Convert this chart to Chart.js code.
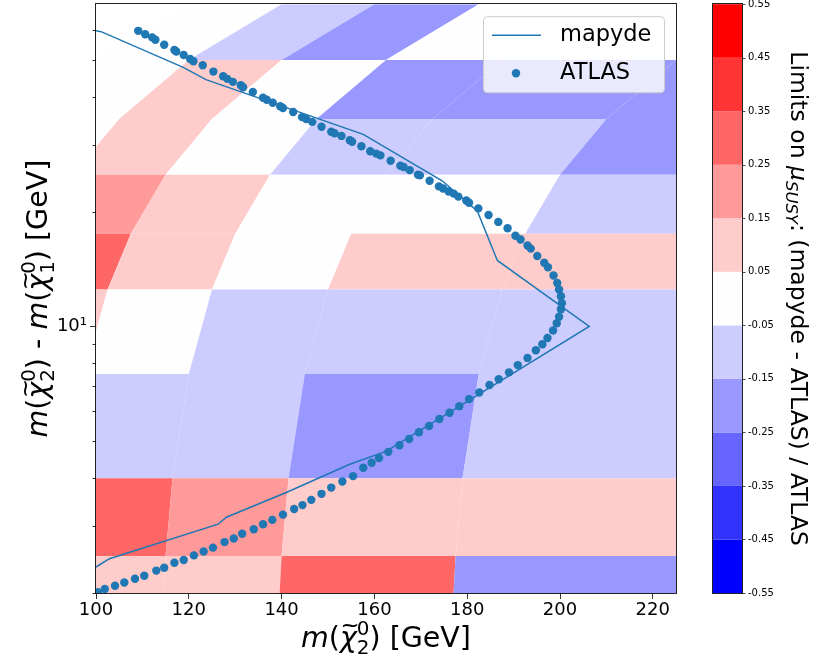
<!DOCTYPE html>
<html>
<head>
<meta charset="utf-8">
<script src="https://cdn.jsdelivr.net/npm/chart.js@4.4.1/dist/chart.umd.min.js"></script>
<style>
  html, body { margin: 0; padding: 0; background: #fff; }
  canvas { display: block; }
</style>
</head>
<body>
<canvas id="chart" width="814" height="665" style="width:814px;height:665px"></canvas>
<script>
// ---------------- DATA ----------------
// grid of the comparison (LSP mass x mass splitting)
const m1Centers = [60, 80, 100, 125, 150, 200];
const dmCenters = [60, 40, 30, 20, 15, 10, 5, 3, 2];
// (mapyde - ATLAS) / ATLAS, rows follow dmCenters, columns m1Centers
const relDiff = [
  [0.0, -0.1, -0.2, 0.0, 0.0, 0.0],
  [0.0, 0.1, 0.0, -0.2, -0.2, -0.2],
  [0.0, 0.1, 0.0, -0.1, -0.1, -0.2],
  [null, 0.2, 0.1, 0.0, 0.0, -0.1],
  [null, 0.3, 0.1, 0.0, 0.1, 0.1],
  [null, 0.1, 0.0, -0.1, -0.1, -0.1],
  [null, null, -0.1, -0.1, -0.2, -0.1],
  [null, null, 0.3, 0.2, 0.1, 0.1],
  [null, null, 0.1, 0.1, 0.3, -0.2],
];

// mapyde exclusion contour
const mapydeX = [100.0, 101.1, 118.8, 123.7, 157.6, 174.6, 182.2, 186.5, 206.3, 162.6, 154.7, 141.0, 128.1, 126.3, 102.9, 100.0];
const mapydeDm = [59.6, 59.3, 47.8, 44.4, 31.9, 24.1, 20.05, 14.9, 10.0, 4.71, 4.35, 3.67, 3.16, 3.03, 2.46, 2.34];

// ATLAS published contour
const atlasX = [109.1,110.6,112.1,112.8,114.7,116.9,117.3,118.9,120.3,121.0,
  123.0,125.3,127.4,128.3,129.5,131.2,131.7,133.8,136.0,136.8,
  138.1,139.7,140.3,142.5,144.4,145.3,146.6,148.6,150.7,151.4,
  152.9,154.7,155.2,157.2,159.1,160.4,161.3,163.5,165.6,166.3,
  167.6,169.4,169.8,171.9,173.9,174.8,176.0,177.1,178.1,179.8,
  180.4,182.4,184.6,186.7,188.7,190.4,191.5,193.0,193.7,195.1,
  196.6,197.4,198.6,199.4,199.8,200.2,200.4,200.2,199.8,199.3,
  198.5,197.3,196.2,194.8,193.0,190.9,189.0,186.8,184.8,182.6,
  180.4,178.3,176.2,174.0,171.8,169.6,167.5,165.4,163.0,161.0,
  159.4,157.6,155.4,153.1,150.7,148.6,146.4,144.5,142.7,140.3,
  138.0,136.0,134.0,131.5,129.7,127.7,125.2,123.2,121.1,118.9,
  116.9,114.7,113.0,110.4,108.4,106.1,104.1,101.9,100.4];
const atlasDm = [59.6,58.4,57.3,56.5,54.8,53.1,52.6,51.5,50.3,49.6,
  48.4,46.6,45.3,44.6,43.8,42.9,42.4,41.2,39.8,39.3,
  38.6,37.8,37.4,36.5,35.4,35.0,34.4,33.4,32.4,32.1,
  31.6,30.8,30.5,29.7,28.8,28.4,28.1,27.2,26.4,26.2,
  25.7,25.0,24.9,24.1,23.3,23.0,22.6,22.3,21.9,21.4,
  21.1,20.4,19.6,18.8,18.1,17.3,16.9,16.3,16.0,15.3,
  14.7,14.3,13.6,13.0,12.5,12.0,11.5,11.1,10.6,10.2,
  9.76,9.33,8.98,8.66,8.27,7.92,7.58,7.27,7.02,6.71,
  6.45,6.18,5.94,5.72,5.48,5.28,5.07,4.88,4.69,4.52,
  4.39,4.26,4.05,3.92,3.78,3.64,3.51,3.40,3.32,3.21,
  3.11,3.03,2.94,2.86,2.78,2.72,2.63,2.57,2.51,2.44,
  2.40,2.33,2.29,2.22,2.18,2.13,2.09,2.05,2.01];

// ticks + colour levels
const xTicks = [100, 120, 140, 160, 180, 200, 220];
const yTicks = [2, 3, 4, 5, 6, 7, 8, 9, 10, 20, 30, 40, 50, 60];
const yMajor = [10];
const cbBounds = [-0.55, -0.45, -0.35, -0.25, -0.15, -0.05, 0.05, 0.15, 0.25, 0.35, 0.45, 0.55];
const cbColors = ['#0000ff', '#3232ff', '#6666ff', '#9898ff', '#ccccff', '#fefeff',
                  '#ffcccc', '#ff9a9a', '#ff6666', '#ff3434', '#ff0000'];

const FONT = "'DejaVu Sans', sans-serif";
const BLUE = '#1f77b4';

// ---------------- HELPERS ----------------
function edgesOf(c) {
  const e = [c[0] - (c[1] - c[0]) / 2];
  for (let i = 0; i < c.length - 1; i++) e.push((c[i] + c[i + 1]) / 2);
  e.push(c[c.length - 1] + (c[c.length - 1] - c[c.length - 2]) / 2);
  return e;
}

function colorFor(v) {
  for (let i = 0; i < cbColors.length; i++) {
    if (v >= cbBounds[i] && v < cbBounds[i + 1]) return cbColors[i];
  }
  return v < cbBounds[0] ? cbColors[0] : cbColors[cbColors.length - 1];
}

// rich text (italic / stacked sub+superscripts) drawn along the baseline
function segWidth(ctx, s, size) {
  if (s.stack) {
    ctx.font = `${size * 0.7}px ${FONT}`;
    return Math.max(ctx.measureText(s.stack[0]).width, ctx.measureText(s.stack[1]).width);
  }
  ctx.font = `${s.it ? 'italic ' : ''}${size * (s.sc || 1)}px ${FONT}`;
  return ctx.measureText(s.t).width;
}

function drawRich(ctx, segs, size, cx, cy, rot) {
  ctx.save();
  ctx.translate(cx, cy);
  ctx.rotate(rot);
  ctx.fillStyle = '#000';
  ctx.textBaseline = 'alphabetic';
  ctx.textAlign = 'left';
  let total = 0;
  segs.forEach(s => { total += segWidth(ctx, s, size); });
  let x = -total / 2;
  segs.forEach(s => {
    const w = segWidth(ctx, s, size);
    if (s.stack) {
      ctx.font = `${size * 0.7}px ${FONT}`;
      ctx.fillText(s.stack[0], x, -size * 0.42);
      ctx.fillText(s.stack[1], x, size * 0.24);
    } else {
      ctx.font = `${s.it ? 'italic ' : ''}${size * (s.sc || 1)}px ${FONT}`;
      ctx.fillText(s.t, x, (s.dy || 0) * size);
      if (s.tilde) {
        ctx.font = `${size * 0.8}px ${FONT}`;
        const tw = ctx.measureText('~').width;
        ctx.fillText('~', x + w / 2 - tw / 2 + size * 0.06, -size * 0.5);
      }
    }
    x += w;
  });
  ctx.restore();
}

const chi = (lo) => [{ t: 'm', it: true }, { t: '(' }, { t: 'χ', it: true, tilde: true }, { stack: ['0', lo] }, { t: ')' }];
const xLabel = [...chi('2'), { t: ' [GeV]' }];
const yLabel = [...chi('2'), { t: ' - ' }, ...chi('1'), { t: ' [GeV]' }];
const cbLabel = [{ t: 'Limits on ' }, { t: 'μ', it: true }, { t: 'SUSY', it: true, sc: 0.7, dy: 0.2 },
                 { t: ': (mapyde - ATLAS) / ATLAS' }];

function noPad(s) {
  s.paddingTop = 0;
  s.paddingBottom = 0;
}

// ---------------- PLUGINS ----------------
const heatmapPlugin = {
  id: 'heatmap',
  beforeDatasetsDraw(chart) {
    const { ctx, chartArea: a, scales: { x, y } } = chart;
    const m1E = edgesOf(m1Centers);
    const dmE = edgesOf(dmCenters);
    ctx.save();
    ctx.beginPath();
    ctx.rect(a.left, a.top, a.width, a.height);
    ctx.clip();
    relDiff.forEach((row, i) => {
      const hi = dmE[i], lo = dmE[i + 1];
      row.forEach((v, j) => {
        if (v === null) return;
        const e0 = m1E[j], e1 = m1E[j + 1];
        ctx.beginPath();
        ctx.moveTo(x.getPixelForValue(e0 + lo), y.getPixelForValue(lo));
        ctx.lineTo(x.getPixelForValue(e1 + lo), y.getPixelForValue(lo));
        ctx.lineTo(x.getPixelForValue(e1 + hi), y.getPixelForValue(hi));
        ctx.lineTo(x.getPixelForValue(e0 + hi), y.getPixelForValue(hi));
        ctx.closePath();
        ctx.fillStyle = colorFor(v);
        ctx.fill();
      });
    });
    ctx.restore();
  },
  afterDraw(chart) {
    const { ctx, chartArea: a, scales: { y, cb } } = chart;
    ctx.save();
    // frame
    ctx.strokeStyle = '#222';
    ctx.lineWidth = 1;
    ctx.strokeRect(Math.round(a.left) - 0.5, Math.round(a.top) - 0.5, Math.round(a.width) + 1, Math.round(a.height) + 1);
    // minor y ticks
    ctx.beginPath();
    yTicks.filter(v => !yMajor.includes(v)).forEach(v => {
      const py = Math.round(y.getPixelForValue(v)) + 0.5;
      ctx.moveTo(a.left - 3.5, py);
      ctx.lineTo(a.left, py);
    });
    ctx.strokeStyle = '#000';
    ctx.lineWidth = 0.8;
    ctx.stroke();

    // colorbar
    const cbL = a.right + 36, cbW = 30;
    for (let i = 0; i < cbColors.length; i++) {
      const y0 = cb.getPixelForValue(cbBounds[i]);
      const y1 = cb.getPixelForValue(cbBounds[i + 1]);
      ctx.fillStyle = cbColors[i];
      ctx.fillRect(cbL, y1, cbW, y0 - y1);
    }
    ctx.strokeStyle = '#222';
    ctx.lineWidth = 1;
    ctx.strokeRect(cbL + 0.5, Math.round(a.top) - 0.5, cbW, Math.round(a.height) + 1);
    ctx.beginPath();
    cbBounds.forEach(v => {
      const py = Math.round(cb.getPixelForValue(v)) + 0.5;
      ctx.moveTo(cbL + cbW, py);
      ctx.lineTo(cbL + cbW + 3.5, py);
    });
    ctx.lineWidth = 0.8;
    ctx.stroke();

    // legend
    const lw = 181, lh = 76, lx = a.right - 12 - lw, ly = a.top + 12;
    ctx.beginPath();
    ctx.roundRect(lx + 0.5, ly + 0.5, lw, lh, 4);
    ctx.fillStyle = 'rgba(255,255,255,0.8)';
    ctx.fill();
    ctx.strokeStyle = '#cccccc';
    ctx.lineWidth = 1;
    ctx.stroke();
    ctx.beginPath();
    ctx.moveTo(lx + 9, ly + 19);
    ctx.lineTo(lx + 58, ly + 19);
    ctx.strokeStyle = BLUE;
    ctx.lineWidth = 1.5;
    ctx.stroke();
    ctx.beginPath();
    ctx.arc(lx + 33, ly + 57, 4.2, 0, Math.PI * 2);
    ctx.fillStyle = BLUE;
    ctx.fill();
    ctx.fillStyle = '#000';
    ctx.font = `22.5px ${FONT}`;
    ctx.textBaseline = 'middle';
    ctx.textAlign = 'left';
    ctx.fillText(chart.data.datasets[1].label, lx + 77, ly + 19);
    ctx.fillText(chart.data.datasets[0].label, lx + 77, ly + 57);

    // axis titles
    drawRich(ctx, xLabel, 28.5, (a.left + a.right) / 2, 647, 0);
    drawRich(ctx, yLabel, 28.5, 47, (a.top + a.bottom) / 2, -Math.PI / 2);
    drawRich(ctx, cbLabel, 23.5, 791, (a.top + a.bottom) / 2, Math.PI / 2);
    ctx.restore();
  }
};

// ---------------- CHART ----------------
new Chart(document.getElementById('chart'), {
  type: 'scatter',
  data: {
    datasets: [
      {
        label: 'ATLAS',
        data: atlasX.map((v, i) => ({ x: v, y: atlasDm[i] })),
        backgroundColor: BLUE,
        borderColor: BLUE,
        pointRadius: 4.2,
        pointBorderWidth: 0,
        showLine: false,
        order: 0,
      },
      {
        label: 'mapyde',
        data: mapydeX.map((v, i) => ({ x: v, y: mapydeDm[i] })),
        borderColor: BLUE,
        borderWidth: 1.5,
        pointRadius: 0,
        showLine: true,
        tension: 0,
        order: 1,
      },
    ],
  },
  options: {
    responsive: false,
    animation: false,
    devicePixelRatio: 1,
    layout: { padding: { top: 3, left: 0, right: 0, bottom: 0 } },
    plugins: { legend: { display: false }, tooltip: { enabled: false } },
    scales: {
      x: {
        type: 'linear',
        position: 'bottom',
        min: 100,
        max: 225,
        afterBuildTicks: s => { s.ticks = xTicks.map(v => ({ value: v })); },
        afterFit: s => { s.height = 72; s.paddingLeft = 0; s.paddingRight = 0; },
        grid: { drawOnChartArea: false, tickLength: 6, tickColor: '#000', tickWidth: 0.8 },
        border: { display: false },
        ticks: { color: '#000', font: { family: FONT, size: 18 }, padding: 1, autoSkip: false, maxRotation: 0 },
      },
      y: {
        type: 'logarithmic',
        position: 'left',
        min: 2,
        max: 70,
        afterBuildTicks: s => { s.ticks = yTicks.map(v => ({ value: v })); },
        afterFit: s => { s.width = 96; noPad(s); },
        grid: {
          drawOnChartArea: false,
          tickLength: 6,
          tickWidth: 0.8,
          tickColor: c => (yMajor.includes(c.tick.value) ? '#000' : 'rgba(0,0,0,0)'),
        },
        border: { display: false },
        ticks: {
          color: '#000',
          font: { family: FONT, size: 18 },
          padding: 3,
          autoSkip: false,
          callback: v => (yMajor.includes(v) ? '10¹' : ''),
        },
      },
      cb: {
        type: 'linear',
        position: 'right',
        min: -0.55,
        max: 0.55,
        afterBuildTicks: s => { s.ticks = cbBounds.map(v => ({ value: v })); },
        afterFit: s => { s.width = 138; noPad(s); },
        grid: { display: false, drawTicks: false },
        border: { display: false },
        ticks: { color: '#000', font: { family: FONT, size: 10 }, padding: 72, autoSkip: false,
                 callback: v => v.toFixed(2) },
      },
    },
  },
  plugins: [heatmapPlugin],
});
</script>
</body>
</html>
